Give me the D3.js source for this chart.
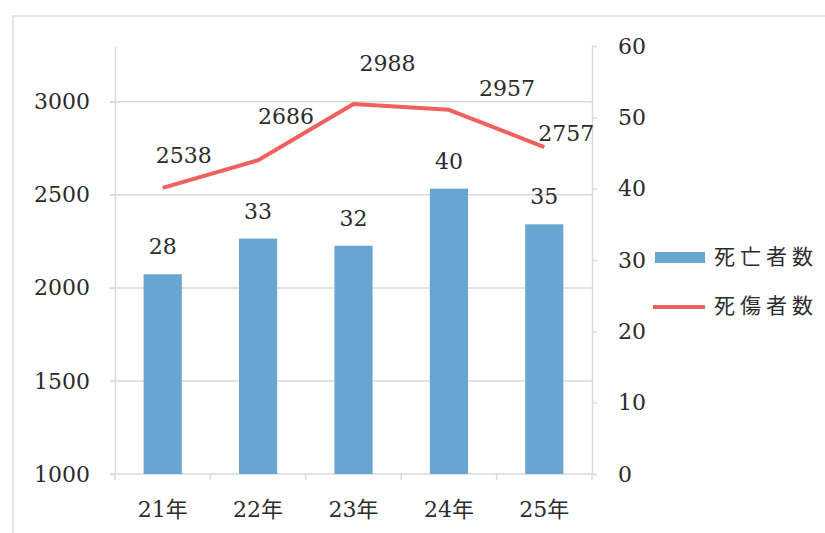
<!DOCTYPE html>
<html>
<head>
<meta charset="utf-8">
<script src="https://cdn.jsdelivr.net/npm/d3@7"></script>
<style>
  body { margin: 0; background: #ffffff; }
  text { fill: #2b2b2b; font-family: "DejaVu Serif", "Noto Sans CJK JP", serif; }
</style>
</head>
<body>
<svg id="chart"></svg>
<script>
var years = ["21年", "22年", "23年", "24年", "25年"];
var deaths = [28, 33, 32, 40, 35];           // 死亡者数 (bars, right axis)
var casualties = [2538, 2686, 2988, 2957, 2757]; // 死傷者数 (line, left axis)
var leftTicks = [1000, 1500, 2000, 2500, 3000];
var rightTicks = [0, 10, 20, 30, 40, 50, 60];
var seriesNames = ["死亡者数", "死傷者数"];

// hand placed label nudges for the line labels (dx, dy)
var lineLabelNudge = [[21, -31], [28, -42], [34, -39], [58, -20], [22, -12]];

var width = 825, height = 533;
var plotLeft = 115, plotRight = 592, plotTop = 46, plotBottom = 474;
var barColor = "#68a5d0", lineColor = "#f0605c", gridColor = "#dadada";

var svg = d3.select("#chart").attr("width", width).attr("height", height);

// outer frame (only top and left edges visible in the scan)
svg.append("line").attr("x1", 12).attr("x2", width).attr("y1", 16).attr("y2", 16)
    .attr("stroke", "#e6e6e6").attr("stroke-width", 2);
svg.append("line").attr("x1", 13).attr("x2", 13).attr("y1", 16).attr("y2", height)
    .attr("stroke", "#e6e6e6").attr("stroke-width", 2);

// scales
var x = d3.scaleBand().domain(years).range([plotLeft, plotRight]).paddingInner(0.6).paddingOuter(0.3);
var yL = d3.scaleLinear().domain([1000, 3300]).range([plotBottom, plotTop]);
var yR = d3.scaleLinear().domain([0, 60]).range([plotBottom, plotTop]);

// gridlines
svg.append("g").selectAll("line").data(leftTicks.slice(1)).join("line")
    .attr("x1", plotLeft - 5).attr("x2", plotRight)
    .attr("y1", d => yL(d)).attr("y2", d => yL(d))
    .attr("stroke", gridColor).attr("stroke-width", 1.5);

// left axis
var gl = svg.append("g").attr("transform", "translate(" + plotLeft + ",0)")
    .call(d3.axisLeft(yL).tickValues(leftTicks).tickFormat(d3.format("d"))
        .tickSize(5).tickSizeOuter(0).tickPadding(20));
gl.select(".domain").attr("stroke", gridColor).attr("stroke-width", 1.5);
gl.selectAll(".tick line").attr("stroke", gridColor).attr("stroke-width", 1.5);
gl.selectAll("text").style("font-size", "22px").attr("fill", "#2b2b2b")
    .style("font-family", "'DejaVu Serif', serif");

// right axis
var gr = svg.append("g").attr("transform", "translate(" + plotRight + ",0)")
    .call(d3.axisRight(yR).tickValues(rightTicks).tickSize(5).tickSizeOuter(0).tickPadding(21));
gr.select(".domain").attr("stroke", gridColor).attr("stroke-width", 1.5);
gr.selectAll(".tick line").attr("stroke", gridColor).attr("stroke-width", 1.5);
gr.selectAll("text").style("font-size", "22px").attr("fill", "#2b2b2b")
    .style("font-family", "'DejaVu Serif', serif");

// bottom axis: baseline, boundary ticks, labels
svg.append("line").attr("x1", plotLeft - 5).attr("x2", plotRight).attr("y1", plotBottom).attr("y2", plotBottom)
    .attr("stroke", gridColor).attr("stroke-width", 1.5);
var bounds = d3.range(years.length + 1).map(i => plotLeft + i * x.step());
svg.append("g").selectAll("line").data(bounds).join("line")
    .attr("x1", d => d).attr("x2", d => d).attr("y1", plotBottom).attr("y2", plotBottom + 6)
    .attr("stroke", gridColor).attr("stroke-width", 1.5);
svg.append("g").selectAll("text").data(years).join("text")
    .attr("x", d => x(d) + x.bandwidth() / 2).attr("y", 511)
    .attr("text-anchor", "middle").attr("dominant-baseline", "middle")
    .style("font-size", "22px").text(d => d);

// bars
svg.append("g").selectAll("rect").data(deaths).join("rect")
    .attr("x", (d, i) => x(years[i]))
    .attr("width", x.bandwidth())
    .attr("y", d => yR(d))
    .attr("height", d => yR(0) - yR(d))
    .attr("fill", barColor);

svg.append("g").selectAll("text").data(deaths).join("text")
    .attr("x", (d, i) => x(years[i]) + x.bandwidth() / 2)
    .attr("y", d => yR(d) - 26)
    .attr("text-anchor", "middle").attr("dominant-baseline", "middle")
    .style("font-size", "22px").text(d => d);

// line
var line = d3.line()
    .x((d, i) => x(years[i]) + x.bandwidth() / 2)
    .y(d => yL(d));
svg.append("path").attr("d", line(casualties))
    .attr("fill", "none").attr("stroke", lineColor).attr("stroke-width", 4)
    .attr("stroke-linejoin", "round");

svg.append("g").selectAll("text").data(casualties).join("text")
    .attr("x", (d, i) => x(years[i]) + x.bandwidth() / 2 + lineLabelNudge[i][0])
    .attr("y", (d, i) => yL(d) + lineLabelNudge[i][1])
    .attr("text-anchor", "middle").attr("dominant-baseline", "middle")
    .style("font-size", "22px").text(d => d);

// legend
var lg = svg.append("g");
lg.append("rect").attr("x", 655).attr("y", 252).attr("width", 50).attr("height", 11).attr("fill", barColor);
lg.append("line").attr("x1", 653).attr("x2", 705).attr("y1", 307).attr("y2", 307)
    .attr("stroke", lineColor).attr("stroke-width", 4);
lg.selectAll("text").data(seriesNames).join("text")
    .attr("x", 714).attr("y", (d, i) => 258 + i * 49)
    .attr("dominant-baseline", "middle")
    .style("font-family", "'Noto Sans CJK JP', sans-serif")
    .style("font-size", "21px").style("letter-spacing", "5px")
    .text(d => d);
</script>
</body>
</html>
